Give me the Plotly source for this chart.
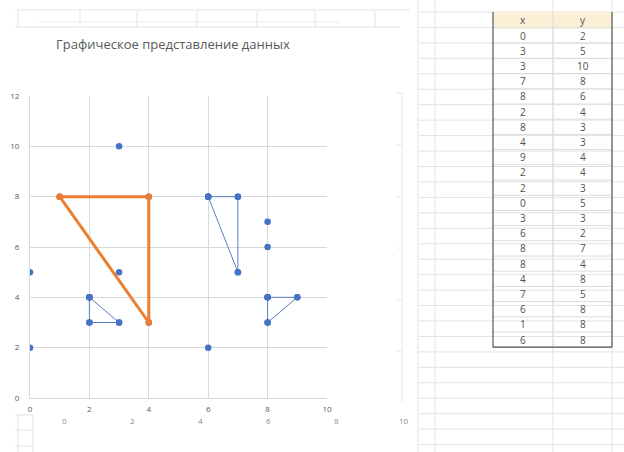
import plotly.graph_objects as go

# ---------------- data ----------------
title_text = "Графическое представление данных"
table_header = ["x", "y"]
x_vals = [0, 3, 3, 7, 8, 2, 8, 4, 9, 2, 2, 0, 3, 6, 8, 8, 4, 7, 6, 1, 6]
y_vals = [2, 5, 10, 8, 6, 4, 3, 3, 4, 4, 3, 5, 3, 2, 7, 4, 8, 5, 8, 8, 8]

tri_a_x = [2, 2, 3, 2]
tri_a_y = [4, 3, 3, 4]
tri_b_x = [6, 7, 7, 6]
tri_b_y = [8, 8, 5, 8]
tri_c_x = [8, 9, 8, 8]
tri_c_y = [4, 4, 3, 4]
orange_x = [1, 4, 4, 1]
orange_y = [8, 8, 3, 8]

x_ticks = [0, 2, 4, 6, 8, 10]
y_ticks = [0, 2, 4, 6, 8, 10, 12]
ghost_ticks = ["0", "2", "4", "6", "8", "10"]

# ---------------- helpers ----------------
W, H = 624, 452
def px(x):
    return x / W
def py(y):
    return 1 - y / H

BLUE = "#4472C4"
LINE_BLUE = "#5b7ec6"
ORANGE = "#ED7D31"
GRID = "#d9d9d9"
TXT = "#595959"

fig = go.Figure()

fig.add_trace(go.Scatter(x=x_vals, y=y_vals, mode="markers",
                         marker=dict(color=BLUE, size=6.5), showlegend=False))
for tx, ty in [(tri_a_x, tri_a_y), (tri_b_x, tri_b_y), (tri_c_x, tri_c_y)]:
    fig.add_trace(go.Scatter(x=tx, y=ty, mode="lines+markers",
                             line=dict(color=LINE_BLUE, width=1),
                             marker=dict(color=BLUE, size=6.5), showlegend=False))
fig.add_trace(go.Scatter(x=orange_x, y=orange_y, mode="lines+markers",
                         line=dict(color=ORANGE, width=3),
                         marker=dict(color=ORANGE, size=6.5), showlegend=False))

shapes = []
annotations = []

def hline(x0, x1, y, color="#e3e3e3", width=1):
    shapes.append(dict(type="line", xref="paper", yref="paper",
                       x0=px(x0), x1=px(x1), y0=py(y), y1=py(y),
                       line=dict(color=color, width=width), layer="below"))

def vline(x, y0, y1, color="#e3e3e3", width=1):
    shapes.append(dict(type="line", xref="paper", yref="paper",
                       x0=px(x), x1=px(x), y0=py(y0), y1=py(y1),
                       line=dict(color=color, width=width), layer="below"))

def text(x, y, s, size=10, color="#404040"):
    annotations.append(dict(xref="paper", yref="paper", x=px(x), y=py(y),
                            xanchor="center", yanchor="middle",
                            text=s, showarrow=False,
                            font=dict(size=size, color=color, family="Open Sans")))

# spreadsheet grid, top-left strip above the chart
hline(15, 410, 10)
hline(15, 400, 27)
for vx in [18, 80, 137, 197, 257, 315, 375]:
    vline(vx, 10, 27)
hline(39, 340, 22, color="#ececec")

# spreadsheet grid on the right
row_h = 15.45
first_top = 12
for i in range(29):
    yy = first_top + i * row_h
    if yy > H:
        break
    hline(418, 624, yy)
for vx in [418, 435, 553, 612]:
    vline(vx, 0, H)

# bottom-left spreadsheet cells
for yy in [415, 430, 446]:
    hline(15, 33, yy)
vline(18, 415, H)
vline(33, 415, H)

# ghost axis of a second chart behind
vline(402, 92, 402, color="#e6e6e6")
for yy in [93, 145, 197, 248, 300, 351]:
    hline(397, 402, yy, color="#e6e6e6")
ghost_x = [64, 132, 200, 268, 336, 404]
for lab, gx in zip(ghost_ticks, ghost_x):
    text(gx, 420, lab, size=8, color="#8c8c8c")

# ---------------- table ----------------
t_left, t_mid, t_right = 493, 553, 612
t_top, head_bot = 12, 28
shapes.append(dict(type="rect", xref="paper", yref="paper",
                   x0=px(t_left), x1=px(t_right), y0=py(t_top), y1=py(head_bot),
                   fillcolor="#fcefd6", line=dict(width=0), layer="below"))
n = len(x_vals)
t_bot = head_bot + n * 15.2
for i in range(n + 1):
    hline(t_left, t_right, head_bot + i * 15.2, color="#dcdcdc")
vline(t_mid, t_top, t_bot, color="#dcdcdc")
vline(t_left, t_top, t_bot, color="#555555", width=1.2)
vline(t_right, t_top, t_bot, color="#555555", width=1.2)
hline(t_left, t_right, t_bot, color="#555555", width=1.2)

text(523, 20, table_header[0], color="#505050")
text(583, 20, table_header[1], color="#505050")
for i, (xv, yv) in enumerate(zip(x_vals, y_vals)):
    cy = head_bot + 7.6 + i * 15.2
    text(523, cy, str(xv), color="#505050")
    text(583, cy, str(yv), color="#505050")

# title
text(173, 44, title_text, size=13, color=TXT)

fig.update_layout(
    width=W, height=H,
    margin=dict(l=0, r=0, t=0, b=0),
    paper_bgcolor="white", plot_bgcolor="white",
    shapes=shapes, annotations=annotations,
    xaxis=dict(domain=[px(30), px(327)], range=[0, 10], tickvals=x_ticks,
               showgrid=True, gridcolor=GRID, gridwidth=1, zeroline=False,
               showline=True, linecolor=GRID, ticks="", automargin=False,
               tickfont=dict(size=8, color=TXT, family="Open Sans"),
               ticklabelstandoff=3, fixedrange=True),
    yaxis=dict(domain=[py(398), py(96)], range=[0, 12], tickvals=y_ticks,
               showgrid=True, gridcolor=GRID, gridwidth=1, zeroline=False,
               showline=True, linecolor=GRID, ticks="", automargin=False,
               tickfont=dict(size=8, color=TXT, family="Open Sans"),
               ticklabelstandoff=8, fixedrange=True),
)

fig.write_html("out.html",
               config={"displayModeBar": False},
               post_script="document.body.style.margin='0';document.body.style.overflow='hidden';")
